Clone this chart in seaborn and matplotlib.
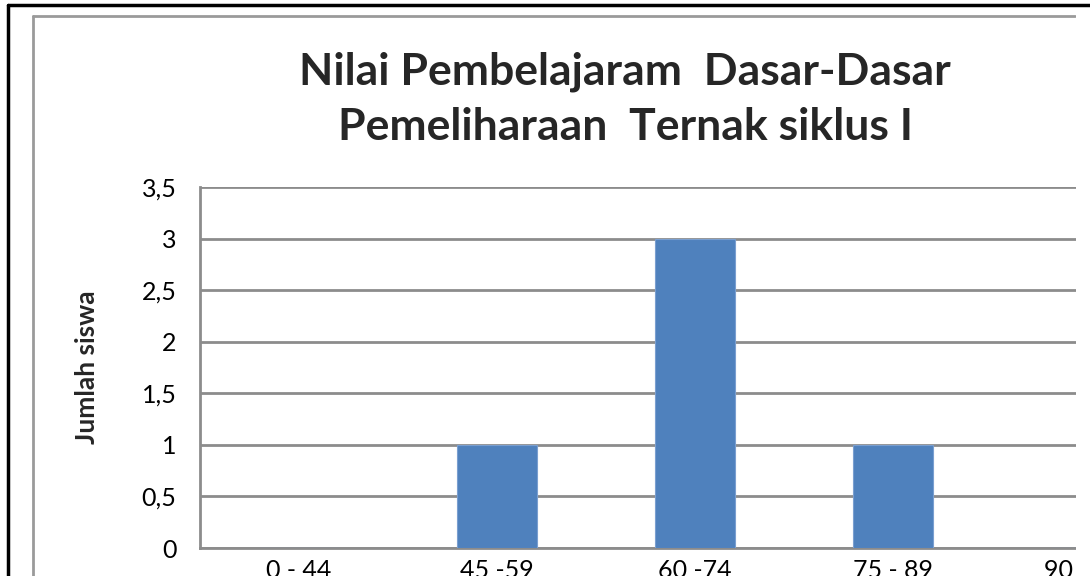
import numpy as np
import pandas as pd
import matplotlib
matplotlib.use("Agg")
import matplotlib.pyplot as plt
import seaborn as sns
from matplotlib.lines import Line2D
from matplotlib.patches import Rectangle
from matplotlib.ticker import FuncFormatter, FixedLocator

# data
kelas = ["0 - 44", "45 -59", "60 -74", "75 - 89", "90 - 100"]
jumlah = [0, 1, 3, 1, 0]
judul = "Nilai Pembelajaram  Dasar-Dasar\nPemeliharaan  Ternak siklus I"
label_y = "Jumlah siswa"

df = pd.DataFrame({"kelas": kelas, "jumlah": jumlah})

sns.set_theme(style="white")
plt.rcParams["font.family"] = ["Lato", "DejaVu Sans"]

W, H = 1090, 576
fig = plt.figure(figsize=(W / 100, H / 100), dpi=100)
fx = lambda px: px / W
fy = lambda py: 1 - py / H

grid_c = "#8c8c8c"
ax = fig.add_axes([fx(200), fy(548), fx(1190) - fx(200), fy(187) - fy(548)])
sns.barplot(data=df, x="kelas", y="jumlah", color="#4f81bd", width=0.4,
            saturation=1, edgecolor="#7a9fd0", linewidth=0.8, ax=ax, zorder=3)

ax.set_xlim(-0.5, len(kelas) - 0.5)
ax.set_ylim(0, 3.5)
ax.set_yticks(np.arange(0, 3.51, 0.5))
ax.yaxis.set_major_formatter(FuncFormatter(lambda v, p: ("%g" % v).replace(".", ",")))
ax.grid(axis="y", color=grid_c, linewidth=2, zorder=0)
ax.set_axisbelow(True)

for s in ["top", "right"]:
    ax.spines[s].set_visible(False)
for s in ["left", "bottom"]:
    ax.spines[s].set_color(grid_c)
    ax.spines[s].set_linewidth(2)

ax.tick_params(axis="y", length=0, pad=17, labelsize=18, colors="black")
ax.tick_params(axis="x", which="major", length=0, pad=8, labelsize=18, colors="black")
ax.xaxis.set_minor_locator(FixedLocator(np.arange(-0.5, len(kelas), 1.0)))
ax.tick_params(axis="x", which="minor", length=40, width=2, color=grid_c, direction="out")
ax.set_xlabel("")
ax.set_ylabel(label_y, fontsize=19, fontweight="bold")
ax.yaxis.set_label_coords((99 - 200) / 990, 0.5)

fig.text(fx(625), fy(99), judul, ha="center", va="center", fontsize=32,
         fontweight="bold", linespacing=1.45)

# frames
fig.add_artist(Line2D([fx(33), fx(33)], [0, fy(16)], color="#9a9a9a", lw=2, zorder=5))
fig.add_artist(Line2D([fx(33), fx(1075)], [fy(16), fy(16)], color="#9a9a9a", lw=2, zorder=5))
fig.add_artist(Rectangle((fx(1076), 0), 1 - fx(1076), fy(7), transform=fig.transFigure,
                         facecolor="white", edgecolor="none", zorder=10))
fig.add_artist(Line2D([fx(8), 1], [fy(5), fy(5)], color="black", lw=2.5, zorder=11))
fig.add_artist(Line2D([fx(8), fx(8)], [0, fy(5)], color="black", lw=2.5, zorder=11))

fig.savefig("out.png", dpi=100)
